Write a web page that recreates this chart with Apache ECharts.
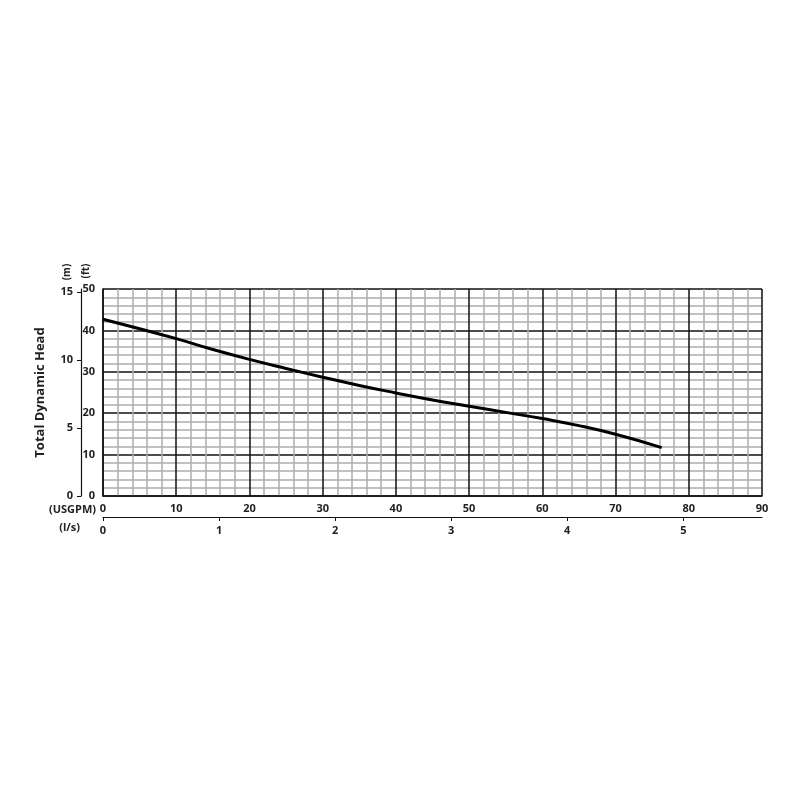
<!DOCTYPE html>
<html>
<head>
<meta charset="utf-8">
<script src="https://cdn.jsdelivr.net/npm/echarts@6/dist/echarts.min.js"></script>
<style>
html,body{margin:0;padding:0;background:#fff}
#chart{width:800px;height:800px}
</style>
</head>
<body>
<div id="chart"></div>
<script>
// pump curve
var flowUsgpm = [0, 5, 10, 15, 20, 25, 30, 35, 40, 45, 50, 55, 60, 65, 70, 76.3];
var headFt    = [42.7, 40.4, 38.0, 35.4, 33.0, 30.8, 28.7, 26.7, 24.9, 23.2, 21.7, 20.2, 18.7, 17.0, 14.9, 11.7];

// secondary scales
var lsTicks = [0, 1, 2, 3, 4, 5];
var mTicks = [0, 5, 10, 15];
var FT_PER_M = 3.2808;
var GPM_PER_LS = 15.8503;

var txt = {color: '#222', fontFamily: 'Open Sans', fontWeight: 'bold', fontSize: 11};

var curve = [];
for (var i = 0; i < flowUsgpm.length; i++) {
    curve.push([flowUsgpm[i], headFt[i]]);
}

var chart = echarts.init(document.getElementById('chart'));
var option = {
    animation: false,
    backgroundColor: '#fff',
    grid: {left: 103, right: 38, top: 289, bottom: 304},
    xAxis: [
        {
            type: 'value', min: 0, max: 90, interval: 10,
            axisLine: {show: true, onZero: false, lineStyle: {color: '#111', width: 1.5}},
            axisTick: {show: false},
            axisLabel: Object.assign({margin: 7}, txt),
            splitLine: {show: true, lineStyle: {color: '#111', width: 1.5}},
            minorTick: {show: false, splitNumber: 5},
            minorSplitLine: {show: true, lineStyle: {color: '#adadad', width: 1.5}}
        },
        {
            // l/s scale under the main axis
            type: 'value', position: 'bottom', offset: 21,
            min: 0, max: 90 / GPM_PER_LS,
            axisLine: {show: true, onZero: false, lineStyle: {color: '#111', width: 1.2}},
            axisTick: {show: true, length: 4, customValues: lsTicks, lineStyle: {color: '#111'}},
            axisLabel: Object.assign({margin: 8, customValues: lsTicks}, txt),
            splitLine: {show: false}
        }
    ],
    yAxis: [
        {
            type: 'value', min: 0, max: 50, interval: 10, position: 'left',
            axisLine: {show: true, onZero: false, lineStyle: {color: '#111', width: 1.5}},
            axisTick: {show: false},
            axisLabel: Object.assign({margin: 8}, txt),
            splitLine: {show: true, lineStyle: {color: '#111', width: 1.5}},
            minorTick: {show: false, splitNumber: 5},
            minorSplitLine: {show: true, lineStyle: {color: '#adadad', width: 1.5}}
        },
        {
            // metres scale to the left
            type: 'value', position: 'left', offset: 22,
            min: 0, max: 50 / FT_PER_M,
            name: 'Total Dynamic Head',
            nameLocation: 'middle', nameGap: 34, nameRotate: 90,
            nameTextStyle: {color: '#222', fontFamily: 'Open Sans', fontWeight: 'bold', fontSize: 13},
            axisLine: {show: true, onZero: false, lineStyle: {color: '#111', width: 1.2}},
            axisTick: {show: true, length: 4, customValues: mTicks, lineStyle: {color: '#111'}},
            axisLabel: Object.assign({margin: 8, customValues: mTicks}, txt),
            splitLine: {show: false}
        }
    ],
    graphic: [
        {type: 'text', x: 67, y: 272, rotation: Math.PI / 2,
            style: {text: '(m)', textAlign: 'center', textVerticalAlign: 'middle', fill: '#222', font: 'bold 10px "Open Sans"'}},
        {type: 'text', x: 86, y: 271, rotation: Math.PI / 2,
            style: {text: '(ft)', textAlign: 'center', textVerticalAlign: 'middle', fill: '#222', font: 'bold 10px "Open Sans"'}},
        {type: 'text', x: 96, y: 510,
            style: {text: '(USGPM)', textAlign: 'right', textVerticalAlign: 'middle', fill: '#222', font: 'bold 11px "Open Sans"'}},
        {type: 'text', x: 80, y: 528,
            style: {text: '(l/s)', textAlign: 'right', textVerticalAlign: 'middle', fill: '#222', font: 'bold 11px "Open Sans"'}}
    ],
    series: [
        {
            type: 'line',
            xAxisIndex: 0, yAxisIndex: 0,
            smooth: true,
            showSymbol: false,
            lineStyle: {color: '#000', width: 3},
            data: curve
        }
    ]
};
chart.setOption(option);
</script>
</body>
</html>
